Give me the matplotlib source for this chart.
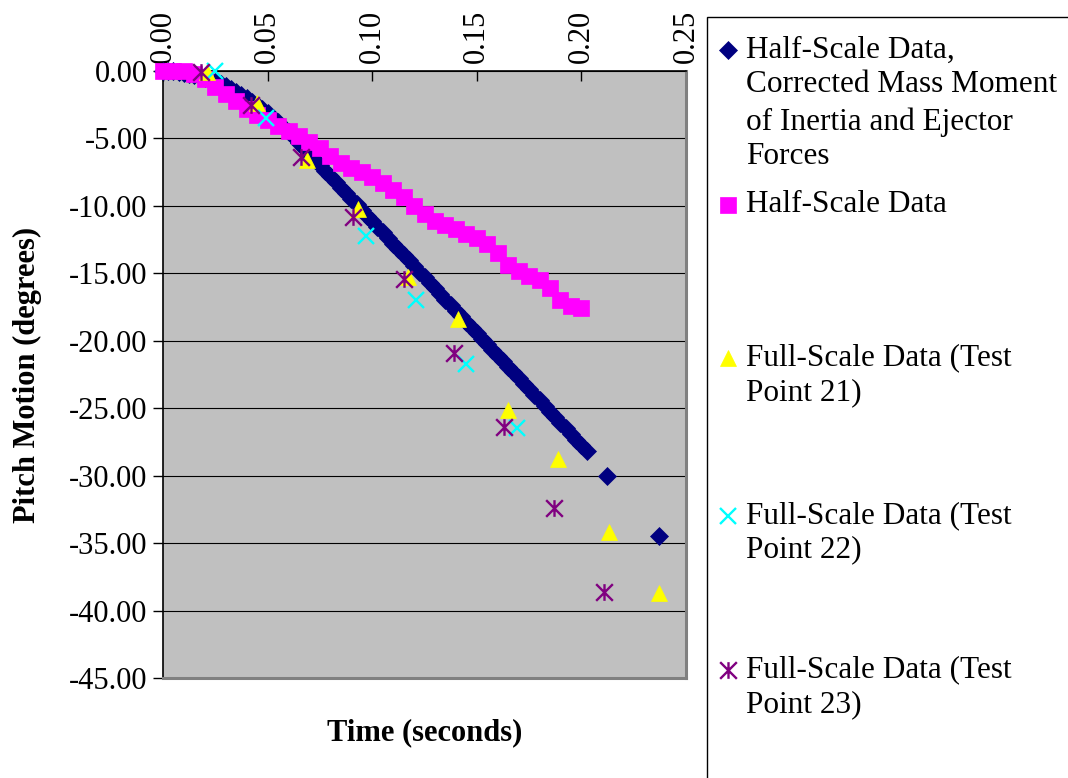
import matplotlib
matplotlib.use("Agg")
import matplotlib.pyplot as plt
from matplotlib.lines import Line2D
from matplotlib.patches import Rectangle
from matplotlib.path import Path

plt.rcParams['font.family'] = ['Liberation Serif', 'DejaVu Serif']

# ---------------- data ----------------
# Half-Scale Data, Corrected Mass Moment of Inertia and Ejector Forces
corr_t = [0.0000, 0.0025, 0.0050, 0.0075, 0.0100, 0.0125, 0.0150, 0.0175, 0.0200, 0.0225,
          0.0250, 0.0275, 0.0300, 0.0325, 0.0350, 0.0375, 0.0400, 0.0425, 0.0450, 0.0475,
          0.0500, 0.0525, 0.0550, 0.0575, 0.0600, 0.0625, 0.0650, 0.0675, 0.0700, 0.0725,
          0.0750, 0.0775, 0.0800, 0.0825, 0.0850, 0.0875, 0.0900, 0.0925, 0.0950, 0.0975,
          0.1000, 0.1025, 0.1050, 0.1075, 0.1100, 0.1125, 0.1150, 0.1175, 0.1200, 0.1225,
          0.1250, 0.1275, 0.1300, 0.1325, 0.1350, 0.1375, 0.1400, 0.1425, 0.1450, 0.1475,
          0.1500, 0.1525, 0.1550, 0.1575, 0.1600, 0.1625, 0.1650, 0.1675, 0.1700, 0.1725,
          0.1750, 0.1775, 0.1800, 0.1825, 0.1850, 0.1875, 0.1900, 0.1925, 0.1950, 0.1975,
          0.2000, 0.2025, 0.2122, 0.2371]
corr_y = [0.00, -0.01, -0.03, -0.07, -0.13, -0.20, -0.28, -0.39, -0.50, -0.64,
          -0.79, -0.95, -1.13, -1.33, -1.54, -1.77, -2.01, -2.27, -2.55, -2.84,
          -3.14, -3.47, -3.80, -4.16, -4.53, -4.91, -5.31, -5.74, -6.16, -6.57,
          -6.99, -7.40, -7.82, -8.23, -8.65, -9.06, -9.48, -9.89, -10.31, -10.72,
          -11.14, -11.55, -11.97, -12.38, -12.80, -13.21, -13.63, -14.04, -14.46, -14.87,
          -15.29, -15.70, -16.12, -16.53, -16.95, -17.36, -17.78, -18.19, -18.61, -19.02,
          -19.44, -19.85, -20.27, -20.68, -21.10, -21.51, -21.93, -22.34, -22.76, -23.17,
          -23.59, -24.00, -24.42, -24.83, -25.25, -25.66, -26.08, -26.49, -26.91, -27.32,
          -27.74, -28.15, -30.00, -34.50]

# Half-Scale Data
half_t = [0.000, 0.005, 0.010, 0.015, 0.020, 0.025, 0.030, 0.035, 0.040, 0.045,
          0.050, 0.055, 0.060, 0.065, 0.070, 0.075, 0.080, 0.085, 0.090, 0.095,
          0.100, 0.105, 0.110, 0.115, 0.120, 0.125, 0.130, 0.135, 0.140, 0.145,
          0.150, 0.155, 0.160, 0.165, 0.170, 0.175, 0.180, 0.185, 0.190, 0.195,
          0.200]
half_y = [0.00, 0.00, 0.00, -0.20, -0.60, -1.20, -1.70, -2.25, -2.80, -3.25,
          -3.65, -4.05, -4.45, -4.85, -5.25, -5.70, -6.30, -6.85, -7.20, -7.50,
          -7.85, -8.30, -8.80, -9.35, -10.00, -10.60, -11.10, -11.40, -11.75, -12.10,
          -12.40, -12.80, -13.50, -14.40, -14.80, -15.20, -15.50, -16.10, -17.00, -17.40,
          -17.60]

# Full-Scale Data (Test Point 21)
tp21_t = [0.021, 0.045, 0.069, 0.093, 0.117, 0.141, 0.165, 0.189, 0.213, 0.237]
tp21_y = [-0.1, -2.4, -6.6, -10.2, -15.3, -18.4, -25.1, -28.8, -34.2, -38.7]

# Full-Scale Data (Test Point 22)
tp22_t = [0.025, 0.049, 0.097, 0.121, 0.145, 0.169]
tp22_y = [0.0, -3.5, -12.2, -17.0, -21.7, -26.5]

# Full-Scale Data (Test Point 23)
tp23_t = [0.018, 0.042, 0.066, 0.091, 0.115, 0.139, 0.163, 0.187, 0.211]
tp23_y = [-0.1, -2.5, -6.4, -10.8, -15.4, -20.9, -26.4, -32.4, -38.6]

x_ticks = [0.00, 0.05, 0.10, 0.15, 0.20, 0.25]
y_ticks = [0, -5, -10, -15, -20, -25, -30, -35, -40, -45]

legend_entries = [
    ["Half-Scale Data,", "Corrected Mass Moment", "of Inertia and Ejector", "Forces"],
    ["Half-Scale Data"],
    ["Full-Scale Data (Test", "Point 21)"],
    ["Full-Scale Data (Test", "Point 22)"],
    ["Full-Scale Data (Test", "Point 23)"],
]

# ---------------- styles ----------------
star = Path([(-1, -1), (1, 1), (-1, 1), (1, -1), (0, -1), (0, 1)],
            [Path.MOVETO, Path.LINETO, Path.MOVETO, Path.LINETO, Path.MOVETO, Path.LINETO])

styles = [
    dict(marker='D', ms=9.5, color='#000080', mec='#000080', mew=0.5),
    dict(marker='s', ms=11, color='#FF00FF', mec='#FF00FF', mew=0.5),
    dict(marker='^', ms=12, color='#FFFF00', mec='#FFFF00', mew=0.5),
    dict(marker='x', ms=11.5, color='#00FFFF', mec='#00FFFF', mew=1.7),
    dict(marker=star, ms=12, color='#800080', mec='#800080', mew=1.7, mfc='none'),
]

W, H = 1068, 778
fig = plt.figure(figsize=(W / 100, H / 100), dpi=100)
L, R, T, B = 163, 686, 71, 678
ax = fig.add_axes([L / W, 1 - B / H, (R - L) / W, (B - T) / H])
ax.set_facecolor('#C0C0C0')

series = [(corr_t, corr_y), (half_t, half_y), (tp21_t, tp21_y), (tp22_t, tp22_y), (tp23_t, tp23_y)]
for i, ((xs, ys), st) in enumerate(zip(series, styles)):
    ax.plot(xs, ys, linestyle='none', clip_on=False, zorder=3 + i, **st)

ax.set_xlim(0, 0.25)
ax.set_ylim(-45, 0)
ax.xaxis.tick_top()
ax.set_xticks(x_ticks)
ax.set_xticklabels([f"{v:.2f}" for v in x_ticks])
ax.set_yticks(y_ticks)
ax.set_yticklabels([f"{v:.2f}" for v in y_ticks])
ax.tick_params(axis='x', direction='in', length=7, width=1, pad=6, labelsize=22,
               labelrotation=90, colors='black')
ax.tick_params(axis='y', direction='out', length=7, width=1, pad=4, labelsize=22)
ax.yaxis.grid(True, color='black', lw=0.8)
ax.xaxis.grid(False)
ax.set_axisbelow(True)
for s in ['left', 'top']:
    ax.spines[s].set_color('black')
    ax.spines[s].set_linewidth(1.2)
for s in ['right', 'bottom']:
    ax.spines[s].set_color('#808080')
    ax.spines[s].set_linewidth(2.2)

ax.set_xlabel('Time (seconds)', fontsize=22, fontweight='bold', va='center')
ax.xaxis.set_label_coords(0.5, (B - 733) / (B - T))
ax.set_ylabel('Pitch Motion (degrees)', fontsize=22, fontweight='bold', va='center')
ax.yaxis.set_label_coords((27 - L) / (R - L), 0.5)

# ---------------- legend (manual, Excel style) ----------------
fig.add_artist(Rectangle((707 / W, -0.1), 0.5, 1.1 - 17 / H, transform=fig.transFigure,
                         facecolor='white', edgecolor='black', lw=1.0, zorder=1))
line_y = [[50, 85, 122, 157], [205], [358, 393], [516, 550], [670, 705]]
for entry, ys, st in zip(legend_entries, line_y, styles):
    fig.add_artist(Line2D([728 / W], [1 - ys[0] / H], transform=fig.transFigure,
                          linestyle='none', zorder=2, **st))
    for txt, yy in zip(entry, ys):
        fig.text(746 / W, 1 - yy / H, txt, fontsize=22.5, va='center', ha='left', zorder=2)

fig.savefig('out.png', dpi=100)
